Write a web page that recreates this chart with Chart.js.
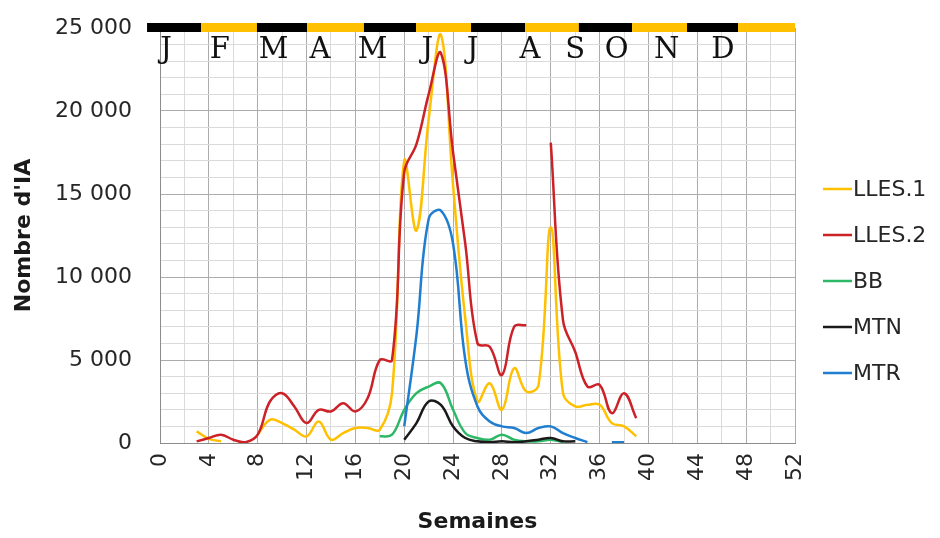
<!DOCTYPE html>
<html>
<head>
<meta charset="utf-8">
<script src="https://cdn.jsdelivr.net/npm/chart.js@4.4.1/dist/chart.umd.min.js"></script>
<style>
  body { margin: 0; background: #fff; }
</style>
</head>
<body>
<canvas id="chart" width="940" height="538"></canvas>
<script>
// semaines
const weeks = [3, 4, 5, 6, 7, 8, 9, 10, 11, 12, 13, 14, 15, 16, 17, 18, 19, 20, 21, 22,
  23, 24, 25, 26, 27, 28, 29, 30, 31, 32, 33, 34, 35, 36, 37, 38, 39];

// nombre d'IA par semaine
const lles1 = [700, 250, 100, null, null, 500, 1400, 1200, 800, 400, 1300, 200, 600, 900, 900, 800, 3000, 17000, 12800, 19500,
  24600, 15500, 7500, 2500, 3600, 2000, 4500, 3100, 3500, 13000, 3000, 2200, 2300, 2300, 1200, 1000, 400];
const lles2 = [100, 300, 500, 200, 50, 500, 2500, 3000, 2200, 1200, 2000, 1900, 2400, 1900, 2700, 5000, 5000, 16300, 18000, 21000,
  23500, 17500, 12000, 6000, 5800, 4100, 7000, 7100, null, 18100, 7400, 5500, 3400, 3500, 1800, 3000, 1500];
const bb = [null, null, null, null, null, null, null, null, null, null, null, null, null, null, null, 400, 500, 2000, 3000, 3400,
  3600, 2000, 600, 300, 200, 500, 200, 100, 100, 200, 50, null, null, null, null, null, null];
const mtn = [null, null, null, null, null, null, null, null, null, null, null, null, null, null, null, null, null, 200, 1200, 2500,
  2300, 1000, 300, 100, 50, 100, 50, 100, 200, 300, 100, 100, null, null, null, null, null];
const mtr = [null, null, null, null, null, null, null, null, null, null, null, null, null, null, null, null, null, 1000, 6500, 13500,
  14000, 12000, 5000, 2200, 1300, 1000, 900, 600, 900, 1000, 600, 300, 50, null, 50, 50, null];

const seriesNames = ['LLES.1', 'LLES.2', 'BB', 'MTN', 'MTR'];
const seriesValues = [lles1, lles2, bb, mtn, mtr];
const seriesColors = ['#FFC000', '#CC2127', '#2DB866', '#1A1A1A', '#1F7ECF'];

// bandeau des mois (en semaines)
const monthEdges = [-1.06, 3.36, 7.94, 12.04, 16.7, 20.97, 25.47, 29.9, 34.3, 38.66, 43.16, 47.34, 52];
const monthLetters = ['J', 'F', 'M', 'A', 'M', 'J', 'J', 'A', 'S', 'O', 'N', 'D'];
const monthLetterPos = [0.5, 4.9, 9.3, 13.1, 17.4, 21.9, 25.6, 30.3, 34.0, 37.4, 41.5, 46.1];

function fmtNum(v) {
  return String(v).replace(/\B(?=(\d{3})+(?!\d))/g, ' ');
}

const monthsPlugin = {
  id: 'months',
  beforeDatasetsDraw(chart) {
    const {ctx, scales: {x, y}} = chart;
    const top = y.getPixelForValue(25000);
    ctx.save();
    ctx.font = '29px "DejaVu Serif"';
    ctx.fillStyle = '#111';
    ctx.textAlign = 'center';
    ctx.textBaseline = 'alphabetic';
    monthLetters.forEach((m, i) => {
      ctx.fillText(m, x.getPixelForValue(monthLetterPos[i]), top + 30);
    });
    ctx.restore();
  },
  afterDatasetsDraw(chart) {
    const {ctx, scales: {x, y}} = chart;
    const top = y.getPixelForValue(25000);
    ctx.save();
    for (let i = 0; i < monthEdges.length - 1; i++) {
      const x0 = x.getPixelForValue(monthEdges[i]);
      const x1 = x.getPixelForValue(monthEdges[i + 1]);
      ctx.fillStyle = i % 2 === 0 ? '#000000' : '#FFC000';
      ctx.fillRect(x0, top - 5, x1 - x0, 9);
    }
    ctx.restore();
  }
};

const legendPlugin = {
  id: 'sideLegend',
  afterDraw(chart) {
    const {ctx, chartArea} = chart;
    ctx.save();
    ctx.font = '22px "DejaVu Sans"';
    ctx.textBaseline = 'middle';
    ctx.textAlign = 'left';
    seriesNames.forEach((name, i) => {
      const yy = 189 + i * 46;
      const xx = chartArea.right + 28;
      ctx.strokeStyle = seriesColors[i];
      ctx.lineWidth = 2.5;
      ctx.beginPath();
      ctx.moveTo(xx, yy);
      ctx.lineTo(xx + 29, yy);
      ctx.stroke();
      ctx.fillStyle = '#262626';
      ctx.fillText(name, xx + 30, yy + 1);
    });
    ctx.restore();
  }
};

const datasets = seriesNames.map((name, i) => ({
  label: name,
  data: weeks.map((w, k) => ({x: w, y: seriesValues[i][k]})),
  borderColor: seriesColors[i],
  backgroundColor: seriesColors[i],
  borderWidth: 2.5,
  pointRadius: 0,
  tension: 0.4,
  spanGaps: false,
  order: seriesNames.length - i
}));

new Chart(document.getElementById('chart'), {
  type: 'line',
  data: { datasets: datasets },
  options: {
    responsive: false,
    animation: false,
    layout: { padding: { top: 28, right: 145, left: 0, bottom: 0 } },
    plugins: {
      legend: { display: false },
      tooltip: { enabled: false }
    },
    scales: {
      x: {
        type: 'linear',
        min: 0,
        max: 52,
        afterFit(scale) { scale.height = 95; },
        ticks: {
          stepSize: 2,
          autoSkip: false,
          minRotation: 90,
          maxRotation: 90,
          padding: 10,
          color: '#262626',
          font: { family: 'DejaVu Sans', size: 22 },
          callback: v => (v % 4 === 0 ? String(v) : '')
        },
        grid: {
          drawTicks: false,
          color: c => (c.tick && c.tick.value % 4 === 0 ? '#ababab' : '#dadada')
        },
        border: { color: '#8c8c8c' },
        title: {
          display: true,
          text: 'Semaines',
          color: '#1a1a1a',
          font: { family: 'DejaVu Sans', size: 22, weight: 'bold' },
          padding: { top: 0, bottom: 3 }
        }
      },
      y: {
        min: 0,
        max: 25000,
        afterFit(scale) {
          scale.width = 160;
          scale.paddingTop = 0;
          scale.paddingBottom = 0;
        },
        ticks: {
          stepSize: 1000,
          autoSkip: false,
          padding: 28,
          color: '#262626',
          font: { family: 'DejaVu Sans', size: 22 },
          callback: v => (v % 5000 === 0 ? fmtNum(v) : '')
        },
        grid: {
          drawTicks: false,
          color: c => (c.tick && c.tick.value % 5000 === 0 ? '#ababab' : '#dadada')
        },
        border: { color: '#8c8c8c' },
        title: {
          display: true,
          text: "Nombre d'IA",
          color: '#1a1a1a',
          font: { family: 'DejaVu Sans', size: 22, weight: 'bold' },
          padding: { top: 11, bottom: 0 }
        }
      }
    }
  },
  plugins: [monthsPlugin, legendPlugin]
});
</script>
</body>
</html>
